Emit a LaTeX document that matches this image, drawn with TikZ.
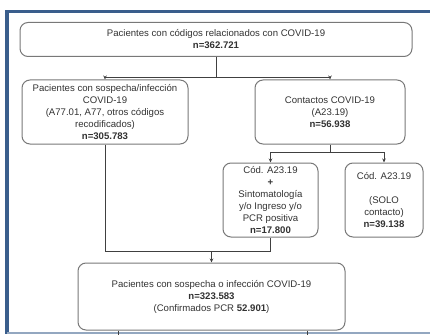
\documentclass[tikz,border=0pt]{standalone}
\usepackage{fontspec}
\setmainfont{Liberation Sans}
\usepackage{tikz}
\usetikzlibrary{calc}
\usetikzlibrary{arrows.meta}
\definecolor{framecolor}{RGB}{58,94,140}
\definecolor{boxline}{RGB}{120,120,120}
\definecolor{boxtext}{RGB}{50,50,50}
\tikzstyle{box}=[
  draw=boxline,
  line width=1pt,
  rounded corners=8pt,
  align=center,
  text=boxtext,
  inner sep=0pt,
  font=\fontsize{9.6}{12}\selectfont
]
\tikzstyle{link}=[
  draw=black!75,
  line width=0.8pt
]
\tikzstyle{op}=[
  link,
  -{Stealth[length=4pt,width=3.5pt]}
]

\begin{document}
\begin{tikzpicture}[x=1pt,y=-1pt]
  \useasboundingbox (0,0) rectangle (430,334);
  \draw[framecolor, line width=3.5pt] (430,11.5) -- (7,11.5) -- (7,334);
  \draw[framecolor!55, line width=2pt] (7,333) -- (430,333);

  \node[box, minimum width=392pt, minimum height=34pt] (all)     at (216,39.5)  {Pacientes con códigos relacionados con COVID-19\\\textbf{n=362.721}};
  \node[box, minimum width=166pt, minimum height=64pt] (sospecha) at (105,112)  {Pacientes con sospecha/infección\\COVID-19\\(A77.01, A77, otros códigos\\recodificados)\\\textbf{n=305.783}};
  \node[box, minimum width=150pt, minimum height=64pt] (contacto) at (330,112)  {Contactos COVID-19\\(A23.19)\\\textbf{n=56.938}};
  \node[box, minimum width=95pt,  minimum height=74pt] (sintoma)  at (270.5,200) {Cód. A23.19\\\textbf{+}\\Sintomatología\\y/o Ingreso y/o\\PCR positiva\\\textbf{n=17.800}};
  \node[box, minimum width=78pt,  minimum height=74pt] (solo)     at (384,200)   {Cód. A23.19\\[12pt](SOLO\\contacto)\\\textbf{n=39.138}};
  \node[box, minimum width=267pt, minimum height=67pt] (total)    at (211.5,296.5) {Pacientes con sospecha o infección COVID-19\\\textbf{n=323.583}\\(Confirmados PCR \textbf{52.901})};

  \coordinate (j1) at ($(all.south) + (0,20)$);
  \coordinate (j2) at ($(contacto.south) + (0,8)$);
  \coordinate (j3) at ($(total.north) + (0,-11)$);
  \coordinate (s1) at ($(total.south) + (-93.5,5)$);
  \coordinate (s2) at ($(total.south) + (95.5,5)$);

  \draw[link] (all.south) -- (j1);
  \draw[op] (j1) -| (sospecha.north);
  \draw[op] (j1) -| (contacto.north);
  \draw[link] (contacto.south) -- (j2);
  \draw[op] (j2) -| (sintoma.north);
  \draw[op] (j2) -| (solo.north);
  \draw[link] (sospecha.south) |- (j3) -| (sintoma.south);
  \draw[op] (j3) -- (total.north);
  \draw[link] (total.south -| s1) -- (s1);
  \draw[link] (total.south -| s2) -- (s2);
\end{tikzpicture}
\end{document}
